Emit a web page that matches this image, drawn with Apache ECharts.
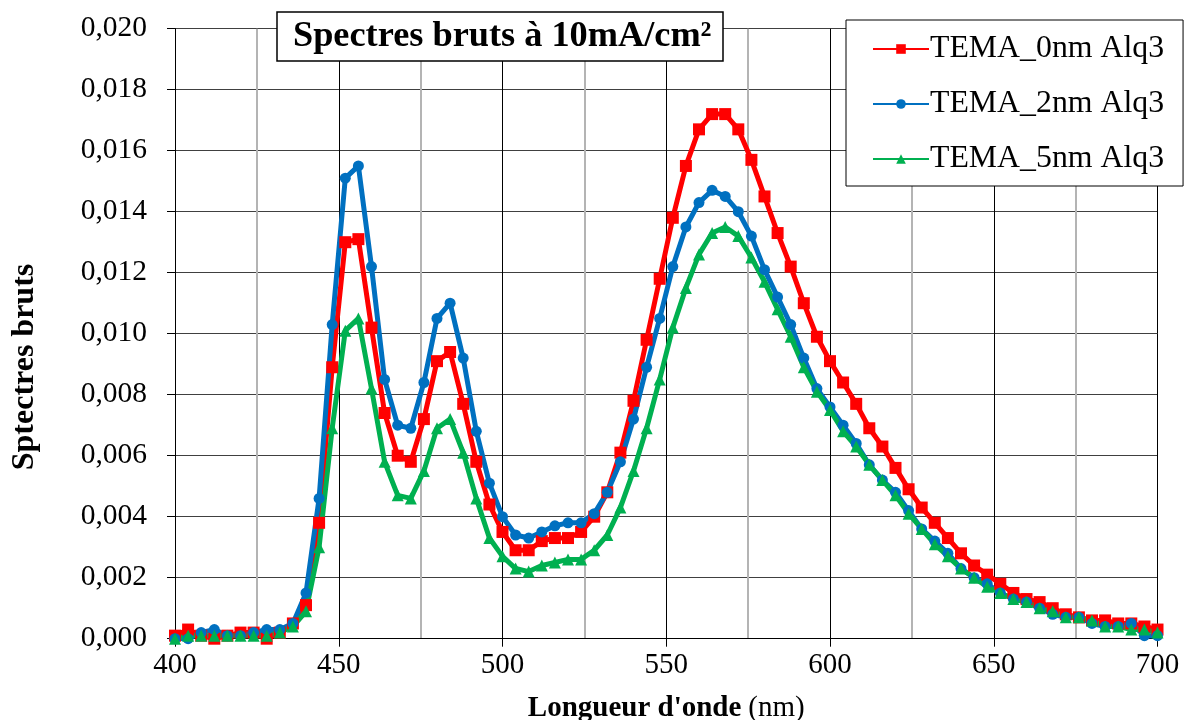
<!DOCTYPE html>
<html>
<head>
<meta charset="utf-8">
<script src="https://cdn.jsdelivr.net/npm/echarts@6/dist/echarts.min.js"></script>
<style>
html,body{margin:0;padding:0;background:#fff;}
#c{width:1186px;height:720px;}
</style>
</head>
<body>
<div id="c"></div>
<script>
const wavelengths = [400,404,408,412,416,420,424,428,432,436,440,444,448,452,456,460,464,468,472,476,480,484,488,492,496,500,504,508,512,516,520,524,528,532,536,540,544,548,552,556,560,564,568,572,576,580,584,588,592,596,600,604,608,612,616,620,624,628,632,636,640,644,648,652,656,660,664,668,672,676,680,684,688,692,696,700];

const tema0 = [0.0001,0.0003,0.0001,0.0000,0.0001,0.0002,0.0002,0.0000,0.0002,0.0005,0.0011,0.0038,0.0089,0.0130,0.0131,0.0102,0.0074,0.0060,0.0058,0.0072,0.0091,0.0094,0.0077,0.0058,0.0044,0.0035,0.0029,0.0029,0.0032,0.0033,0.0033,0.0035,0.0040,0.0048,0.0061,0.0078,0.0098,0.0118,0.0138,0.0155,0.0167,0.0172,0.0172,0.0167,0.0157,0.0145,0.0133,0.0122,0.0110,0.0099,0.0091,0.0084,0.0077,0.0069,0.0063,0.0056,0.0049,0.0043,0.0038,0.0033,0.0028,0.0024,0.0021,0.0018,0.0015,0.0013,0.0012,0.0010,0.0008,0.0007,0.0006,0.0006,0.0005,0.0005,0.0004,0.0003];

const tema2 = [0.0000,0.0000,0.0002,0.0003,0.0001,0.0001,0.0002,0.0003,0.0003,0.0005,0.0015,0.0046,0.0103,0.0151,0.0155,0.0122,0.0085,0.0070,0.0069,0.0084,0.0105,0.0110,0.0092,0.0068,0.0051,0.0040,0.0034,0.0033,0.0035,0.0037,0.0038,0.0038,0.0041,0.0048,0.0058,0.0072,0.0089,0.0105,0.0122,0.0135,0.0143,0.0147,0.0145,0.0140,0.0132,0.0121,0.0112,0.0103,0.0092,0.0082,0.0076,0.0070,0.0064,0.0057,0.0052,0.0048,0.0042,0.0036,0.0032,0.0028,0.0023,0.0020,0.0018,0.0015,0.0013,0.0012,0.0010,0.0008,0.0007,0.0007,0.0005,0.0004,0.0004,0.0005,0.0001,0.0001];

const tema5 = [0.0000,0.0001,0.0001,0.0001,0.0001,0.0001,0.0001,0.0001,0.0002,0.0004,0.0009,0.0030,0.0069,0.0101,0.0105,0.0082,0.0058,0.0047,0.0046,0.0055,0.0069,0.0072,0.0061,0.0046,0.0033,0.0027,0.0023,0.0022,0.0024,0.0025,0.0026,0.0026,0.0029,0.0034,0.0043,0.0055,0.0069,0.0085,0.0102,0.0115,0.0126,0.0133,0.0135,0.0132,0.0125,0.0117,0.0108,0.0099,0.0089,0.0081,0.0075,0.0068,0.0063,0.0057,0.0052,0.0047,0.0041,0.0036,0.0031,0.0027,0.0023,0.0020,0.0017,0.0015,0.0013,0.0012,0.0010,0.0009,0.0007,0.0007,0.0006,0.0004,0.0004,0.0003,0.0003,0.0002];

const seriesNames = ['TEMA_0nm Alq3','TEMA_2nm Alq3','TEMA_5nm Alq3'];
const chartTitle = 'Spectres bruts à 10mA/cm²';
const xTitleBold = "Longueur d'onde";
const xTitleUnit = '(nm)';
const yTitle = 'Sptectres bruts';

const FONT = '"Liberation Serif", "Times New Roman", serif';
function pairs(ys){ return wavelengths.map((x,i)=>[x, ys[i]]); }

const chart = echarts.init(document.getElementById('c'), null, {renderer:'canvas'});
chart.setOption({
  animation:false,
  backgroundColor:'#fff',
  textStyle:{fontFamily:FONT},
  title:{
    text: chartTitle,
    left: 277, top: 12,
    padding:[6,12,6,16],
    borderColor:'#000', borderWidth:1.5,
    backgroundColor:'#fff',
    textStyle:{fontFamily:FONT, fontWeight:'bold', fontSize:36.3, color:'#000', lineHeight:37}
  },
  legend:{
    orient:'vertical',
    left: 846, top: 20,
    padding:[12,19,10,26],
    itemWidth:56, itemHeight:12, itemGap:21,
    borderColor:'#000', borderWidth:1,
    backgroundColor:'#fff',
    textStyle:{fontFamily:FONT, fontSize:31.8, color:'#000', lineHeight:34, padding:[0,0,0,-4]},
    data: seriesNames
  },
  grid:{left:175, right:28.5, top:28.7, bottom:81.3, containLabel:false, outerBoundsMode:'none'},
  xAxis:{
    type:'value', min:400, max:700, interval:50,
    axisLine:{show:true, onZero:false, lineStyle:{color:'#000', width:1}},
    axisTick:{show:true, inside:false, length:8, lineStyle:{color:'#000'}},
    minorTick:{show:false, splitNumber:2},
    splitLine:{show:true, lineStyle:{color:'#000', width:1}},
    minorSplitLine:{show:true, lineStyle:{color:'#b4b4b4', width:2}},
    axisLabel:{fontFamily:FONT, fontSize:29, color:'#000', margin:12},
    name: '{b|' + xTitleBold + '} {n|' + xTitleUnit + '}',
    nameLocation:'middle', nameGap:55,
    nameTextStyle:{
      rich:{
        b:{fontFamily:FONT, fontSize:29, fontWeight:'bold', color:'#000'},
        n:{fontFamily:FONT, fontSize:29, color:'#000', padding:[0,0,0,4]}
      }
    }
  },
  yAxis:{
    type:'value', min:0, max:0.02, interval:0.002,
    axisLine:{show:true, lineStyle:{color:'#000', width:1}},
    axisTick:{show:true, inside:false, length:8, lineStyle:{color:'#000'}},
    splitLine:{show:true, lineStyle:{color:'#404040', width:1.2}},
    axisLabel:{fontFamily:FONT, fontSize:29.5, color:'#000', margin:28,
      formatter:v=>v.toFixed(3).replace('.', ',')}
  },
  graphic:[{
    type:'text', x:25, y:367, rotation:Math.PI/2,
    style:{text:yTitle, fontFamily:FONT, fontSize:32, fontWeight:'bold', fill:'#000',
      textAlign:'center', textVerticalAlign:'middle'}
  }],
  series:[
    {name:seriesNames[0], type:'line', data:pairs(tema0), symbol:'rect', symbolSize:12,
     lineStyle:{color:'#FF0000', width:5}, itemStyle:{color:'#FF0000'}},
    {name:seriesNames[1], type:'line', data:pairs(tema2), symbol:'circle', symbolSize:11,
     lineStyle:{color:'#0070C0', width:5}, itemStyle:{color:'#0070C0'}},
    {name:seriesNames[2], type:'line', data:pairs(tema5), symbol:'triangle', symbolSize:12,
     lineStyle:{color:'#00B050', width:5}, itemStyle:{color:'#00B050'}}
  ]
});
</script>
</body>
</html>
